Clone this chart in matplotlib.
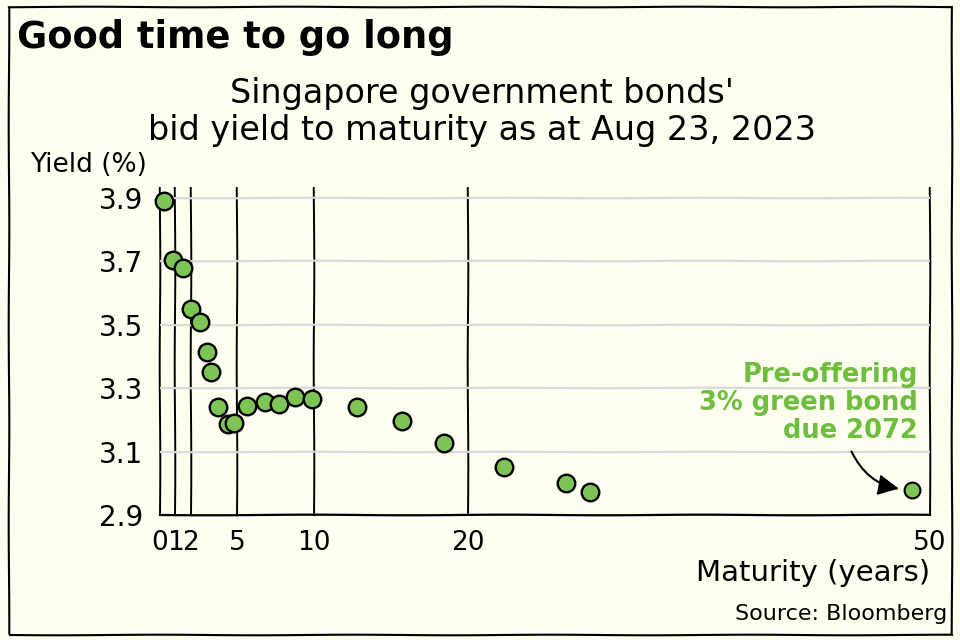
import matplotlib
matplotlib.use('Agg')
import matplotlib.pyplot as plt
from matplotlib.patches import Rectangle

# ---- data ----
maturity_years = [0.28, 0.87, 1.52, 2.01, 2.62, 3.03, 3.31, 3.79, 4.44, 4.83,
                  5.63, 6.82, 7.73, 8.77, 9.87, 12.81, 15.74, 18.46, 22.36,
                  26.34, 27.94]
bid_yield = [3.890, 3.704, 3.678, 3.549, 3.507, 3.414, 3.350, 3.240, 3.186,
             3.189, 3.244, 3.257, 3.249, 3.271, 3.266, 3.240, 3.197, 3.127,
             3.052, 3.000, 2.974]
green_bond_maturity = [48.8]
green_bond_yield = [2.979]

x_ticks = [0, 1, 2, 5, 10, 20, 50]
x_tick_labels = ['0', '1', '2', '5', '10', '20', '50']
y_ticks = [2.9, 3.1, 3.3, 3.5, 3.7, 3.9]
y_tick_labels = ['2.9', '3.1', '3.3', '3.5', '3.7', '3.9']

title = 'Good time to go long'
subtitle = "Singapore government bonds'\nbid yield to maturity as at Aug 23, 2023"
annotation = 'Pre-offering\n3% green bond\ndue 2072'

BG = '#fffff0'
GREEN_DOT = '#7dc355'
GREEN_TEXT = '#6dbd3e'

plt.xkcd(scale=0.3, length=200, randomness=1.2)
plt.rcParams['font.family'] = ['DejaVu Sans']
plt.rcParams['path.effects'] = []

fig = plt.figure(figsize=(9.6, 6.4), dpi=100, facecolor=BG)
ax = fig.add_axes([160/960, 1-515/640, 770/960, (515-188)/640])
ax.set_facecolor(BG)

ax.set_xlim(0, 50)
ax.set_ylim(2.9, 3.93)

ax.set_xticks(x_ticks)
ax.set_xticklabels(x_tick_labels, fontsize=19)
ax.set_yticks(y_ticks)
ax.set_yticklabels(y_tick_labels, fontsize=20)
ax.tick_params(length=0)
ax.tick_params(axis='x', pad=11)
ax.tick_params(axis='y', pad=12)

for s in ['top', 'left', 'right']:
    ax.spines[s].set_visible(False)
ax.spines['bottom'].set_linewidth(1.6)

ax.xaxis.grid(True, color='black', lw=1.4)
ax.yaxis.grid(True, color='#d9d9d9', lw=1.6)
ax.set_axisbelow(True)
for gl in ax.get_xgridlines():
    gl.set_clip_on(False)

ax.scatter(maturity_years, bid_yield, s=160, facecolor=GREEN_DOT,
           edgecolor='black', linewidth=1.7, zorder=3, clip_on=False)
ax.scatter(green_bond_maturity, green_bond_yield, s=130, facecolor=GREEN_DOT,
           edgecolor='black', linewidth=1.5, zorder=3, clip_on=False)

ax.text(49.2, 3.253, annotation, ha='right', va='center', fontsize=18.5,
        fontweight='bold', color=GREEN_TEXT, linespacing=1.12)
ax.annotate('', xy=(green_bond_maturity[0], green_bond_yield[0]),
            xytext=(44.9, 3.10),
            arrowprops=dict(arrowstyle='-|>', connectionstyle='arc3,rad=0.3',
                            color='black', lw=1.5, mutation_scale=32,
                            shrinkA=0, shrinkB=9))

fig.text(17/960, 1-38/640, title, ha='left', va='center', fontsize=26.5,
         fontweight='bold')
fig.text(482/960, 1-112/640, subtitle, ha='center', va='center', fontsize=24,
         linespacing=1.15)
fig.text(30/960, 1-165/640, 'Yield (%)', ha='left', va='center', fontsize=19)
fig.text(930/960, 1-573/640, 'Maturity (years)', ha='right', va='center',
         fontsize=21)
fig.text(947/960, 1-614/640, 'Source: Bloomberg', ha='right', va='center',
         fontsize=16)

fig.patches.append(Rectangle((9/960, 1-635/640), (952-9)/960, (635-7)/640,
                             transform=fig.transFigure, fill=False,
                             edgecolor='black', lw=1.5))

fig.savefig('out.png', dpi=100, facecolor=BG)
